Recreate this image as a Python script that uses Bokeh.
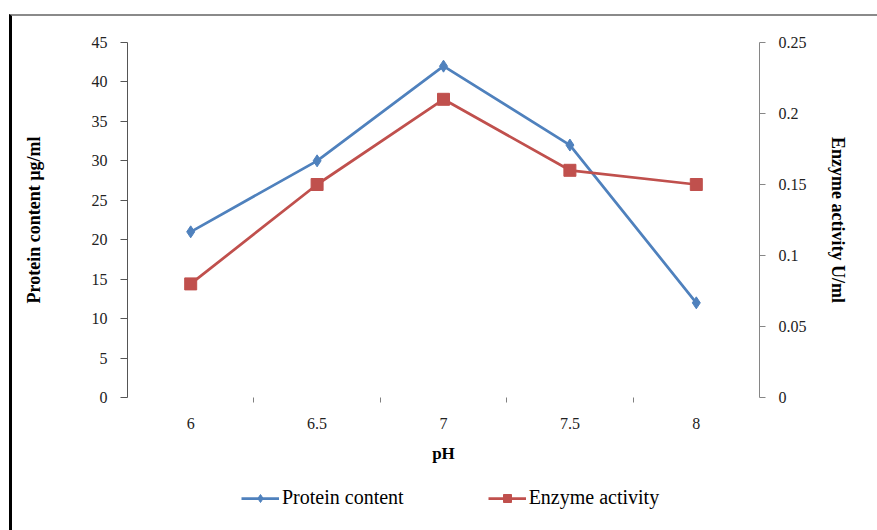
from bokeh.plotting import figure
from bokeh.layouts import column
from bokeh.models import (Range1d, LinearAxis, FixedTicker, Legend, LegendItem)
from bokeh.embed import file_html
from bokeh.resources import INLINE
from bokeh.core.templates import FILE
from jinja2 import Template

# ---- data ----
ph_labels = ["6", "6.5", "7", "7.5", "8"]
protein = [21, 30, 42, 32, 12]
enzyme = [0.08, 0.15, 0.21, 0.16, 0.15]
left_ticks = [0, 5, 10, 15, 20, 25, 30, 35, 40, 45]
right_ticks = [0, 0.05, 0.1, 0.15, 0.2, 0.25]
right_tick_labels = ["0", "0.05", "0.1", "0.15", "0.2", "0.25"]

x_pos = [i + 0.5 for i in range(len(ph_labels))]
boundaries = [i for i in range(1, len(ph_labels))]

FONT = "Liberation Serif"
BLUE = "#4F81BD"
RED = "#C0504D"

p = figure(width=864, height=461, output_backend="svg", toolbar_location=None,
           x_range=Range1d(0, len(ph_labels)), y_range=Range1d(0, 45),
           min_border_left=115, min_border_right=117, min_border_top=26,
           min_border_bottom=80, outline_line_color=None)
p.extra_y_ranges = {"enz": Range1d(0, 0.25)}
p.grid.visible = False

# x axis
xa = p.xaxis[0]
xa.ticker = FixedTicker(ticks=x_pos, minor_ticks=boundaries)
xa.major_label_overrides = {x: l for x, l in zip(x_pos, ph_labels)}
xa.major_tick_out = 0
xa.major_tick_in = 0
xa.minor_tick_out = 5
xa.minor_tick_in = 0
xa.minor_tick_line_color = "#808080"
xa.axis_line_color = None
xa.major_label_standoff = 15
xa.major_label_text_font = FONT
xa.major_label_text_font_size = "16px"
xa.major_label_text_color = "#222222"
xa.axis_label = "pH"
xa.axis_label_text_font = FONT
xa.axis_label_text_font_style = "bold"
xa.axis_label_text_font_size = "17px"
xa.axis_label_text_color = "#000000"
xa.axis_label_standoff = 12

# left y axis
ya = p.yaxis[0]
ya.ticker = FixedTicker(ticks=left_ticks)
ya.major_tick_out = 7
ya.major_tick_in = 0
ya.minor_tick_out = 0
ya.minor_tick_in = 0
ya.axis_line_color = "#555555"
ya.major_tick_line_color = "#555555"
ya.major_label_standoff = 13
ya.major_label_text_font = FONT
ya.major_label_text_font_size = "16px"
ya.major_label_text_color = "#222222"
ya.axis_label = "Protein content µg/ml"
ya.axis_label_text_font = FONT
ya.axis_label_text_font_style = "bold"
ya.axis_label_text_font_size = "18px"
ya.axis_label_text_color = "#000000"
ya.axis_label_standoff = 45

# right y axis
ra = LinearAxis(y_range_name="enz", ticker=FixedTicker(ticks=right_ticks))
ra.major_label_overrides = {t: l for t, l in zip(right_ticks, right_tick_labels)}
ra.major_tick_out = 6
ra.major_tick_in = 0
ra.minor_tick_out = 0
ra.minor_tick_in = 0
ra.axis_line_color = "#868686"
ra.major_tick_line_color = "#868686"
ra.major_label_standoff = 13
ra.major_label_text_font = FONT
ra.major_label_text_font_size = "16px"
ra.major_label_text_color = "#222222"
ra.axis_label = "Enzyme activity U/ml"
ra.axis_label_text_font = FONT
ra.axis_label_text_font_style = "bold"
ra.axis_label_text_font_size = "18px"
ra.axis_label_text_color = "#000000"
ra.axis_label_standoff = 18
ra.axis_label_orientation = "vertical"
p.add_layout(ra, "right")

# series
p.line(x_pos, protein, line_color=BLUE, line_width=2.75)
p.scatter(x_pos, protein, marker="diamond", size=12, fill_color=BLUE, line_color=BLUE)
p.line(x_pos, enzyme, line_color=RED, line_width=2.75, y_range_name="enz")
p.scatter(x_pos, enzyme, marker="square", size=12, fill_color=RED, line_color=RED,
          y_range_name="enz")

# legend strip (separate figure so the legend is not clipped)
q = figure(width=864, height=51, output_backend="svg", toolbar_location=None,
           x_range=Range1d(100, 101), y_range=Range1d(100, 101),
           x_axis_type=None, y_axis_type=None, min_border=0,
           outline_line_color=None)
q.grid.visible = False
k1 = q.line(x_pos, protein, line_color=BLUE, line_width=2.75)
s1 = q.scatter(x_pos, protein, marker="diamond", size=12, fill_color=BLUE, line_color=BLUE)
k2 = q.line(x_pos, enzyme, line_color=RED, line_width=2.75)
s2 = q.scatter(x_pos, enzyme, marker="square", size=12, fill_color=RED, line_color=RED)

legend = Legend(items=[LegendItem(label="Protein content", renderers=[k1, s1]),
                       LegendItem(label="Enzyme activity", renderers=[k2, s2])],
                orientation="horizontal", location=(114, 19),
                label_text_font=FONT, label_text_font_size="20px",
                label_text_color="#000000", glyph_width=38, label_standoff=3,
                spacing=84, padding=8, margin=0, border_line_color=None,
                background_fill_alpha=0)
q.add_layout(legend)

layout = column(p, q, spacing=0)

tmpl = Template("""{% extends base %}
{% block inner_head %}{{ super() }}
<style>
body { margin: 14px 0 0 9px; border-left: 3px solid #000000; border-top: 2px solid #8a8a8a; }
</style>
{% endblock %}""")

open("out.html", "w").write(file_html(layout, INLINE, template=tmpl,
                                      template_variables={"base": FILE}))
